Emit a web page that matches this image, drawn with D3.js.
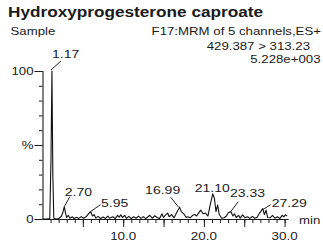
<!DOCTYPE html>
<html>
<head>
<meta charset="utf-8">
<script src="https://cdn.jsdelivr.net/npm/d3@7"></script>
<style>
  body { margin: 0; background: #fff; }
  text { font-family: "Liberation Sans", Arial, sans-serif; fill: #1a1a1a; }
</style>
</head>
<body>
<svg id="drawing_region"></svg>
<script>
// retention time (min) and relative intensity (%)
const times = [0.0, 0.5, 0.9, 1.05, 1.17, 1.28, 1.4, 1.7, 2.0, 2.3, 2.5, 2.7, 2.85, 3.0, 3.2, 3.4, 3.7, 3.9,
    4.2, 4.5, 4.8, 5.1, 5.4, 5.6, 5.95, 6.2, 6.4, 6.6, 6.9, 7.2, 7.5, 7.8, 8.1, 8.3, 8.7, 9.0, 9.3, 9.5,
    9.7, 9.9, 10.2, 10.4, 10.7, 11.0, 11.3, 11.6, 11.9, 12.2, 12.5, 12.8, 13.0, 13.3, 13.6, 13.9, 14.2,
    14.5, 14.8, 15.0, 15.2, 15.5, 15.7, 16.0, 16.3, 16.6, 16.99, 17.2, 17.5, 17.8, 18.0, 18.3, 18.6, 18.9,
    19.1, 19.4, 19.6, 19.9, 20.2, 20.5, 20.8, 21.1, 21.3, 21.5, 21.7, 21.9, 22.2, 22.5, 22.8, 23.0, 23.33,
    23.6, 23.8, 24.0, 24.3, 24.5, 24.8, 25.1, 25.4, 25.7, 26.0, 26.3, 26.6, 26.9, 27.1, 27.29, 27.5, 27.7,
    27.9, 28.2, 28.5, 28.8, 29.1, 29.4, 29.7, 29.9, 30.1, 30.3];
const intensity = [0, 0, 0.3, 40, 100, 30, 0.5, 0, 0.3, 1.5, 4, 8.3, 4, 1, 2.5, 0.5, 1.5, 0.3,
    1.2, 0.4, 1.6, 0.5, 1.5, 2.8, 5, 2, 3, 0.6, 1.8, 0.3, 1.3, 0.4, 2, 0.5, 1.5, 0.3, 2.5, 1.2,
    2.8, 1, 2.5, 0.4, 1.8, 0.3, 1.5, 0.5, 2, 0.4, 1.6, 0.3, 1.2, 2.5, 0.5, 2.2, 1,
    0.4, 3.5, 1, 2.5, 4, 1.5, 3, 0.8, 4, 8, 5, 3.5, 1, 1.5, 0.8, 2.5, 3,
    2, 4.5, 6, 3.5, 4, 2, 10, 17, 14, 5, 9.5, 3, 0.5, 0.8, 2, 4, 5,
    2, 3.5, 1, 2.5, 0.6, 2.8, 0.8, 1.5, 0.4, 1.8, 0.5, 1.2, 4, 5.5, 7, 3, 6,
    1, 0.8, 2.5, 0.5, 1.5, 0.3, 2.5, 1.5, 2.8, 2];

const peakLabels = ["1.17", "2.70", "5.95", "16.99", "21.10", "23.33", "27.29"];
const peakTimes = [1.17, 2.70, 5.95, 16.99, 21.10, 23.33, 27.29];
const peakHeights = [100, 8.3, 5, 8, 17, 5, 7];

const yTickValues = [0, 50, 100];
const yTickLabels = ["0", "%", "100"];
const xLabelValues = [10, 20, 30];

const title = "Hydroxyprogesterone caproate";
const headerLeft = "Sample";
const headerRight = ["F17:MRM of 5 channels,ES+", "429.387 > 313.23", "5.228e+003"];

const SX = 1.26;   // horizontal stretch of the original lettering

function putText(g, str, x, y, size, anchor, sx) {
    return g.append('text')
        .attr('transform', `translate(${x},${y}) scale(${sx || SX},1)`)
        .attr('font-size', size + 'px')
        .attr('text-anchor', anchor || 'start')
        .text(str);
}

const svg = d3.select('#drawing_region')
    .attr('width', 323)
    .attr('height', 245);

// header
putText(svg, title, 8, 16.5, 15.5, 'start', 1.11).attr('font-weight', 'bold');
putText(svg, headerLeft, 10.5, 35, 10.5);
putText(svg, headerRight[0], 321, 35, 10.5, 'end');
putText(svg, headerRight[1], 310, 50, 10.5, 'end');
putText(svg, headerRight[2], 320.5, 63, 10.5, 'end');

const xscale = d3.scaleLinear().domain([0, 30.5]).range([42.5, 42.5 + 30.5 * 8.07]);
const yscale = d3.scaleLinear().domain([0, 100]).range([219, 71]);

const axes = svg.append('g').attr('stroke', '#1a1a1a');

// y axis: minor ticks every 10 %, major at 0/50/100
const ymin = svg.append('g').attr('transform', 'translate(42.5,0)')
    .call(d3.axisLeft(yscale).tickValues(d3.range(0, 101, 10)).tickSize(3.5).tickFormat(''));
const ymaj = svg.append('g').attr('transform', 'translate(42.5,0)')
    .call(d3.axisLeft(yscale).tickValues(yTickValues).tickSize(8).tickFormat(''));

// x axis: minor ticks every minute, major every 5
const xmin = svg.append('g').attr('transform', 'translate(0,219)')
    .call(d3.axisBottom(xscale).tickValues(d3.range(1, 31, 1)).tickSize(4).tickFormat(''));
const xmaj = svg.append('g').attr('transform', 'translate(0,219)')
    .call(d3.axisBottom(xscale).tickValues(d3.range(5, 31, 5)).tickSize(8).tickFormat(''));

svg.selectAll('.domain').attr('stroke', '#1a1a1a').attr('stroke-width', 1.1);
svg.selectAll('.tick line').attr('stroke', '#1a1a1a').attr('stroke-width', 1);
ymin.select('.domain').remove();
xmin.select('.domain').remove();
ymaj.select('.domain').attr('d', `M0.5,${yscale(100)}V${yscale(0)}`);
xmaj.select('.domain').attr('d', `M${xscale(0)},0.5H${xscale(30.5)}`);

yTickValues.forEach((v, i) => {
    putText(svg, yTickLabels[i], 33.5, yscale(v) + 4, 11, 'end', 1.2);
});
xLabelValues.forEach(v => {
    putText(svg, d3.format('.1f')(v), xscale(v), 240, 11, 'middle', 1.22);
});
putText(svg, 'min', 299, 223.5, 11, 'start', 1.2);

// trace
const pts = times.map((t, i) => [t, intensity[i]]);
const line = d3.line()
    .x(d => xscale(d[0]))
    .y(d => yscale(d[1]));
svg.append('path')
    .attr('d', line(pts))
    .attr('fill', 'none')
    .attr('stroke', '#111')
    .attr('stroke-width', 1.1)
    .attr('stroke-linejoin', 'round');

// peak labels: text offset (tx,ty) and leader line (a -> b), px relative to the apex
const labelLayout = [
    {tx: 0, ty: -13, a: [-1, -1], b: [9, -10]},
    {tx: 0.5, ty: -10.5, a: [0, 0], b: [5.5, -10]},
    {tx: 10.5, ty: -5, a: [0, 0], b: [10, -7]},
    {tx: -34.5, ty: -13, a: [-1, 0], b: [-9, -10]},
    {tx: -18, ty: -2, a: null, b: null},
    {tx: -0.8, ty: -15, a: [0, 0], b: [7.5, -10]},
    {tx: 9, ty: -2, a: [0, 1], b: [8, -4]}
];

peakTimes.forEach((t, i) => {
    const px = xscale(t), py = yscale(peakHeights[i]);
    const L = labelLayout[i];
    if (L.a) {
        svg.append('line')
            .attr('x1', px + L.a[0]).attr('y1', py + L.a[1])
            .attr('x2', px + L.b[0]).attr('y2', py + L.b[1])
            .attr('stroke', '#222').attr('stroke-width', 1);
    }
    putText(svg, peakLabels[i], px + L.tx, py + L.ty, 11.5, 'start', 1.22);
});
</script>
</body>
</html>
